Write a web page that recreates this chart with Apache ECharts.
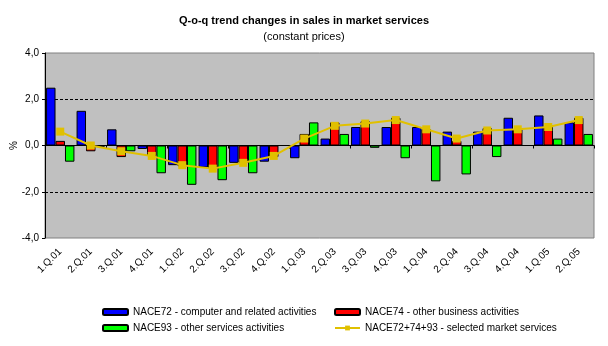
<!DOCTYPE html>
<html>
<head>
<meta charset="utf-8">
<script src="https://cdn.jsdelivr.net/npm/echarts@6/dist/echarts.min.js"></script>
<style>
  html, body { margin: 0; padding: 0; background: #fff; }
  #main { width: 608px; height: 346px; }
</style>
</head>
<body>
<div id="main"></div>
<script>
// quarters
var quarters = ['1.Q.01', '2.Q.01', '3.Q.01', '4.Q.01', '1.Q.02', '2.Q.02', '3.Q.02', '4.Q.02',
    '1.Q.03', '2.Q.03', '3.Q.03', '4.Q.03', '1.Q.04', '2.Q.04', '3.Q.04', '4.Q.04', '1.Q.05', '2.Q.05'];
// NACE72 - computer and related activities
var nace72 = [2.5, 1.5, 0.7, -0.15, -0.85, -0.95, -0.75, -0.7, -0.55, 0.3, 0.8, 0.8, 0.8, 0.6, 0.6, 1.2, 1.3, 1.0];
// NACE74 - other business activities
var nace74 = [0.2, -0.25, -0.5, -0.45, -0.9, -1.0, -0.75, -0.5, 0.5, 1.0, 1.05, 1.2, 0.7, 0.2, 0.75, 0.7, 0.8, 1.2];
// NACE93 - other services activities
var nace93 = [-0.7, -0.05, -0.25, -1.2, -1.7, -1.5, -1.2, 0, 1.0, 0.5, -0.1, -0.55, -1.55, -1.25, -0.5, 0, 0.3, 0.5];
// NACE72+74+93 - selected market services
var naceAll = [0.6, 0.0, -0.25, -0.45, -0.85, -1.0, -0.75, -0.45, 0.3, 0.85, 0.95, 1.1, 0.7, 0.3, 0.65, 0.7, 0.8, 1.1];
var yTicks = [-4, -2, 0, 2, 4];

var names = [
    'NACE72 - computer and related activities',
    'NACE74 - other business activities',
    'NACE93 - other services activities',
    'NACE72+74+93 - selected market services'
];

var font = 'Liberation Sans, Arial, sans-serif';

var myChart = echarts.init(document.getElementById('main'));

function barSeries(name, data, color) {
    return {
        name: name,
        type: 'bar',
        data: data,
        barGap: '0%',
        barCategoryGap: '7%',
        itemStyle: { color: color, borderColor: '#000', borderWidth: 1 },
        emphasis: { disabled: true }
    };
}

var option = {
    animation: false,
    textStyle: { fontFamily: font },
    title: [{
        text: 'Q-o-q trend changes in sales in market services',
        left: 'center',
        top: 10,
        textStyle: { fontFamily: font, fontSize: 11, fontWeight: 'bold', color: '#000' }
    }, {
        text: '(constant prices)',
        left: 'center',
        top: 26,
        textStyle: { fontFamily: font, fontSize: 11, fontWeight: 'normal', color: '#000' }
    }],
    legend: [{
        orient: 'vertical',
        left: 97,
        top: 301,
        itemWidth: 25,
        itemHeight: 6,
        itemGap: 4,
        data: [names[0], names[2]],
        textStyle: { fontFamily: font, fontSize: 10, color: '#000', lineHeight: 12 }
    }, {
        orient: 'vertical',
        left: 329,
        top: 301,
        itemWidth: 25,
        itemHeight: 6,
        itemGap: 4,
        data: [names[1], names[3]],
        textStyle: { fontFamily: font, fontSize: 10, color: '#000', lineHeight: 12 }
    }],
    grid: {
        left: 45,
        right: 14,
        top: 53,
        bottom: 108,
        outerBoundsMode: 'none',
        show: true,
        backgroundColor: '#C0C0C0',
        borderColor: '#808080',
        borderWidth: 1
    },
    xAxis: [{
        type: 'category',
        data: quarters,
        axisLine: { onZero: true, lineStyle: { color: '#000', width: 1 } },
        axisTick: { show: true, length: 3, lineStyle: { color: '#000' } },
        axisLabel: { show: false },
        splitLine: { show: false }
    }, {
        type: 'category',
        data: quarters,
        position: 'bottom',
        axisLine: { show: false, onZero: false },
        axisTick: { show: false },
        axisLabel: {
            rotate: 45,
            margin: 12,
            interval: 0,
            fontFamily: font,
            fontSize: 10,
            color: '#000'
        }
    }],
    yAxis: {
        type: 'value',
        min: yTicks[0],
        max: yTicks[yTicks.length - 1],
        interval: 2,
        name: '%',
        nameLocation: 'middle',
        nameGap: 26,
        nameRotate: 90,
        nameMoveOverlap: false,
        nameTextStyle: { fontFamily: font, fontSize: 10, color: '#000' },
        axisLine: { show: true, lineStyle: { color: '#000', width: 1 } },
        axisTick: { show: true, length: 3, lineStyle: { color: '#000' } },
        axisLabel: {
            margin: 6,
            fontFamily: font,
            fontSize: 10,
            color: '#000',
            formatter: function (v) { return v.toFixed(1).replace('.', ','); }
        },
        splitLine: {
            show: true,
            lineStyle: {
                color: ['transparent', '#000', 'transparent', '#000', 'transparent'],
                type: [3, 2],
                width: 1
            }
        }
    },
    series: [
        barSeries(names[0], nace72, '#0000FF'),
        barSeries(names[1], nace74, '#FF0000'),
        barSeries(names[2], nace93, '#00FF00'),
        {
            name: names[3],
            type: 'line',
            data: naceAll,
            z: 5,
            symbol: 'rect',
            symbolSize: 8,
            itemStyle: { color: '#E0C000' },
            lineStyle: { color: '#E0C000', width: 2 },
            emphasis: { disabled: true }
        }
    ]
};

myChart.setOption(option);
</script>
</body>
</html>
